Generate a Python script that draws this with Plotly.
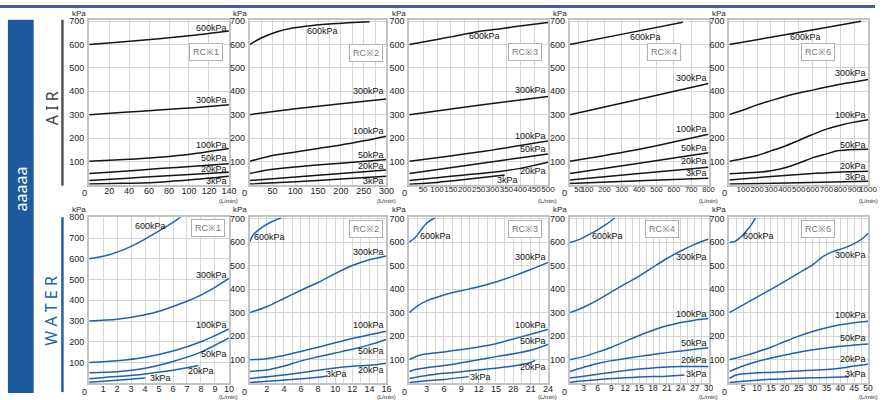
import plotly.graph_objects as go

W, H = 883, 400
FONT = "Liberation Sans Narrow, Liberation Sans, Arial, sans-serif"

# ---- curve data: {pressure label: (flow values, pressure values)} ----
air_rc1 = {
    "600kPa": ([0, 35, 70, 105, 140], [600, 612, 625, 640, 658]),
    "300kPa": ([0, 35, 70, 105, 140], [300, 310, 320, 330, 342]),
    "100kPa": ([0, 35, 70, 105, 140], [100, 108, 118, 133, 155]),
    "50kPa": ([0, 35, 70, 105, 140], [48, 58, 69, 79, 90]),
    "20kPa": ([0, 35, 70, 105, 140], [18, 27, 36, 45, 53]),
    "3kPa": ([0, 35, 70, 105, 140], [3, 6, 11, 22, 36]),
}
air_rc2 = {
    "600kPa": ([0, 25, 60, 97, 134, 190, 263], [600, 628, 655, 672, 681, 690, 698]),
    "300kPa": ([0, 100, 200, 300], [300, 325, 347, 367]),
    "100kPa": ([0, 50, 100, 150, 200, 250, 300], [100, 125, 140, 155, 170, 188, 208]),
    "50kPa": ([0, 30, 61, 134, 200, 300], [48, 60, 68, 82, 92, 108]),
    "20kPa": ([0, 100, 200, 300], [18, 33, 48, 63]),
    "3kPa": ([0, 100, 200, 300], [3, 13, 24, 36]),
}
air_rc3 = {
    "600kPa": ([0, 100, 155, 245, 335, 420, 500], [600, 622, 634, 655, 669, 683, 695]),
    "300kPa": ([0, 250, 500], [300, 340, 378]),
    "100kPa": ([0, 250, 500], [100, 140, 187]),
    "50kPa": ([0, 250, 500], [48, 90, 132]),
    "20kPa": ([0, 100, 200, 300, 400, 500], [18, 30, 42, 53, 70, 96]),
    "3kPa": ([0, 100, 200, 344], [2, 10, 22, 42]),
}
air_rc4 = {
    "600kPa": ([0, 326, 652], [600, 648, 696]),
    "300kPa": ([0, 400, 800], [300, 366, 433]),
    "100kPa": ([0, 400, 800], [100, 152, 216]),
    "50kPa": ([0, 400, 800], [48, 92, 137]),
    "20kPa": ([0, 400, 800], [20, 48, 75]),
    "3kPa": ([0, 400, 800], [5, 17, 28]),
}
air_rc6 = {
    "600kPa": ([0, 475, 950], [600, 650, 700]),
    "300kPa": ([0, 100, 200, 300, 400, 500, 600, 700, 800, 900, 1000],
               [300, 320, 342, 360, 378, 393, 405, 418, 430, 440, 450]),
    "100kPa": ([0, 200, 300, 400, 500, 600, 700, 800, 900, 1000],
               [100, 125, 145, 165, 190, 215, 238, 255, 268, 278]),
    "50kPa": ([0, 200, 300, 415, 500, 608, 700, 778, 900, 1000],
              [47, 53, 60, 75, 92, 117, 132, 145, 151, 152]),
    "20kPa": ([0, 200, 400, 600, 800, 1000], [20, 30, 40, 48, 55, 58]),
    "3kPa": ([0, 500, 1000], [3, 8, 15]),
}
water_rc1 = {
    "600kPa": ([0, 1, 2, 3, 4, 5, 6, 6.6], [600, 612, 632, 660, 695, 735, 775, 805]),
    "300kPa": ([0, 2, 4, 5, 6, 7, 8, 9, 10], [300, 308, 330, 347, 370, 395, 425, 462, 505]),
    "100kPa": ([0, 2, 4, 6, 8, 10], [100, 108, 125, 155, 200, 262]),
    "50kPa": ([0, 2, 4, 6, 8, 10], [50, 55, 72, 105, 150, 218]),
    "20kPa": ([0, 2, 4, 6, 7.8], [22, 32, 45, 62, 85]),
    "3kPa": ([0, 2, 4], [5, 14, 25]),
}
water_rc2 = {
    "600kPa": ([0, 0.4, 1.35, 2.5, 3.65], [600, 630, 660, 685, 702]),
    "300kPa": ([0, 2, 4, 6, 8, 10, 12, 14, 16], [300, 325, 360, 395, 428, 466, 500, 525, 541]),
    "100kPa": ([0, 2, 4, 6, 8, 10, 12, 14, 16], [100, 104, 118, 135, 153, 172, 190, 206, 221]),
    "50kPa": ([0, 2, 4, 6, 8, 10, 12, 14, 16], [50, 56, 73, 95, 112, 128, 144, 163, 186]),
    "20kPa": ([0, 4, 8, 10, 12, 14, 16], [20, 35, 55, 65, 72, 76, 85]),
    "3kPa": ([0, 3, 6, 9], [3, 10, 19, 30]),
}
water_rc3 = {
    "600kPa": ([0, 1, 2, 3, 4.4], [600, 618, 650, 680, 702]),
    "300kPa": ([0, 1.5, 3, 6, 9, 12, 15, 18, 21, 24], [300, 330, 350, 375, 393, 410, 430, 455, 483, 513]),
    "100kPa": ([0, 1.5, 3, 6, 9, 12, 15, 18, 21, 24], [100, 117, 125, 133, 143, 154, 168, 188, 208, 228]),
    "50kPa": ([0, 1.5, 3, 6, 9, 12, 15, 18, 21, 24], [50, 60, 66, 75, 87, 100, 113, 125, 140, 165]),
    "20kPa": ([0, 3, 6, 9, 12, 15, 18, 21, 21.8], [20, 33, 42, 49, 56, 64, 73, 88, 97]),
    "3kPa": ([0, 3, 6, 10.3], [3, 10, 16, 28]),
}
water_rc4 = {
    "600kPa": ([0, 2, 4, 6, 8, 9.7], [598, 610, 630, 652, 677, 702]),
    "300kPa": ([0, 3, 6, 9, 12, 15, 18, 21, 24, 27, 30],
               [300, 323, 353, 388, 422, 455, 493, 530, 562, 590, 613]),
    "100kPa": ([0, 3, 6, 9, 12, 15, 18, 21, 24, 27, 30],
               [100, 113, 132, 153, 178, 203, 225, 244, 258, 268, 275]),
    "50kPa": ([0, 3, 6, 9, 12, 15, 18, 21, 24, 27, 30],
              [50, 68, 84, 96, 105, 114, 122, 130, 137, 144, 151]),
    "20kPa": ([0, 3, 6, 9, 12, 15, 18, 21, 24, 30], [22, 30, 38, 46, 54, 60, 65, 69, 71, 71]),
    "3kPa": ([0, 3, 6, 9, 12, 15, 18, 21, 24.8], [3, 10, 15, 20, 23, 26, 28, 30, 35]),
}
water_rc6 = {
    "600kPa": ([0, 2, 4, 6, 8, 9.4], [598, 603, 620, 645, 675, 702]),
    "300kPa": ([0, 5, 10, 15, 20, 25, 30, 34, 37, 41, 45, 48, 50],
               [300, 333, 366, 399, 433, 468, 503, 540, 558, 573, 593, 615, 636]),
    "100kPa": ([0, 5, 10, 15, 20, 25, 30, 35, 40, 45, 50],
               [100, 115, 133, 153, 177, 200, 220, 236, 248, 257, 263]),
    "50kPa": ([0, 5, 10, 15, 20, 25, 30, 35, 40, 45, 50],
              [50, 73, 92, 107, 120, 132, 142, 150, 157, 162, 167]),
    "20kPa": ([0, 2, 5, 10, 15, 20, 25, 30, 35, 40, 45, 50],
              [20, 33, 40, 44, 46, 49, 52, 55, 58, 64, 73, 81]),
    "3kPa": ([0, 5, 10, 15, 20, 25, 30, 35, 43], [3, 8, 13, 17, 19, 21, 23, 24, 27]),
}

# ---- axis tick values ----
air_x_max = [140, 300, 500, 800, 1000]
water_x_max = [10, 16, 24, 30, 50]
air_x_ticks = [
    list(range(20, 141, 20)),
    list(range(50, 301, 50)),
    list(range(50, 501, 50)),
    [50] + list(range(100, 801, 100)),
    list(range(100, 1001, 100)),
]
water_x_ticks = [
    list(range(1, 11)),
    list(range(2, 17, 2)),
    list(range(3, 25, 3)),
    list(range(3, 31, 3)),
    list(range(5, 51, 5)),
]
water_x_ticktext = [
    None, None,
    ["3", "6", "9", "12", "15", "28", "21", "24"],
    None, None,
]
rc_names = ["RC※1", "RC※2", "RC※3", "RC※4", "RC※6"]
y_ticks_700 = list(range(100, 701, 100))
y_ticks_800 = list(range(100, 801, 100))

# ---- layout geometry (pixels) ----
col_px = [(90, 231), (252, 390), (413, 553), (575, 715), (736, 876)]
row_px = [(15, 182), (215, 383)]
kpa_px = [9, 207]
minor_top = [20, 25, 50, 100, 100]
minor_bot = [1, 1, 1.5, 1.5, 2.5]
xtick_size_top = [9, 9, 8, 7.5, 8]
xtick_size_bot = [9, 9, 9, 8.5, 8.5]
rc_box_px = [[(208, 48), (369, 49), (530, 48), (670, 48), (825, 48)],
             [(210, 226), (369, 227), (530, 227), (668, 227), (825, 227)]]

# curve label placement: (x, y, xanchor) in data units per pressure
air_label_pos = [
    [(140, 672, "right"), (140, 362, "right"), (140, 170, "right"), (140, 113, "right"), (140, 68, "right"), (140, 14, "right")],
    [(159, 660, "center"), (300, 400, "right"), (300, 230, "right"), (300, 128, "right"), (300, 81, "right"), (300, 17, "right")],
    [(271, 638, "center"), (500, 404, "right"), (500, 208, "right"), (500, 153, "right"), (500, 60, "right"), (354, 21, "center")],
    [(434, 634, "center"), (800, 455, "right"), (800, 238, "right"), (800, 157, "right"), (800, 102, "right"), (800, 51, "right")],
    [(550, 634, "center"), (1000, 477, "right"), (1000, 298, "right"), (1000, 170, "right"), (1000, 81, "right"), (1000, 34, "right")],
]
water_label_pos = [
    [(4.4, 757, "center"), (10, 524, "right"), (10, 281, "right"), (10, 143, "right"), (8.0, 57, "center"), (5.1, 24, "center")],
    [(2.3, 622, "center"), (16, 559, "right"), (16, 248, "right"), (16, 139, "right"), (16, 55, "right"), (10.2, 38, "center")],
    [(4.5, 626, "center"), (24, 538, "right"), (24, 248, "right"), (24, 181, "right"), (24, 67, "right"), (12.3, 25, "center")],
    [(8.1, 626, "center"), (30, 538, "right"), (30, 294, "right"), (30, 172, "right"), (30, 97, "right"), (30, 38, "right")],
    [(10.4, 626, "center"), (50, 546, "right"), (50, 290, "right"), (50, 193, "right"), (50, 105, "right"), (50, 38, "right")],
]

AIR_COLOR = "#151515"
WATER_COLOR = "#2160b0"
BAND_COLOR = "#1d5a9e"
GRID = "#d6d6d6"
FRAME = "#c4c4c4"
TICK_COLOR = "#222222"


def px_x(x):
    return x / W


def px_y(y):
    return 1 - y / H


fig = go.Figure()
layout = dict(
    width=W, height=H,
    margin=dict(l=0, r=0, t=0, b=0),
    paper_bgcolor="white", plot_bgcolor="white",
    showlegend=False,
    font=dict(family=FONT, size=9, color=TICK_COLOR),
)
annotations = []
shapes = []

rows = [
    dict(panels=[air_rc1, air_rc2, air_rc3, air_rc4, air_rc6], xmax=air_x_max,
         xticks=air_x_ticks, xtext=[None] * 5, minor=minor_top, xsize=xtick_size_top,
         color=AIR_COLOR, labels=air_label_pos),
    dict(panels=[water_rc1, water_rc2, water_rc3, water_rc4, water_rc6], xmax=water_x_max,
         xticks=water_x_ticks, xtext=water_x_ticktext, minor=minor_bot, xsize=xtick_size_bot,
         color=WATER_COLOR, labels=water_label_pos),
]

for r, row in enumerate(rows):
    top_px, bot_px = row_px[r]
    for c in range(5):
        idx = r * 5 + c + 1
        sfx = "" if idx == 1 else str(idx)
        left_px, right_px = col_px[c]
        xmax = row["xmax"][c]
        if r == 0:
            yrange, yticks = [0, 706], y_ticks_700
        elif c == 0:
            yrange, yticks = [0, 800], y_ticks_800
        else:
            yrange, yticks = [0, 705], y_ticks_700

        xt = row["xticks"][c]
        xtt = row["xtext"][c] or [str(v) for v in xt]
        layout["xaxis" + sfx] = dict(
            domain=[px_x(left_px), px_x(right_px)], range=[0, xmax], anchor="y" + sfx,
            tickvals=xt, ticktext=xtt, tickangle=0, ticks="",
            showgrid=True, gridcolor=GRID, gridwidth=1,
            minor=dict(tick0=0, dtick=row["minor"][c], showgrid=True, gridcolor=GRID, gridwidth=1),
            zeroline=False, showline=True, mirror=True, linecolor=FRAME, linewidth=2,
            tickfont=dict(size=row["xsize"][c], color=TICK_COLOR, family=FONT), fixedrange=True,
            ticklabelstandoff=-4,
        )
        layout["yaxis" + sfx] = dict(
            domain=[px_y(bot_px), px_y(top_px)], range=yrange, anchor="x" + sfx,
            tickvals=yticks, ticks="",
            showgrid=True, gridcolor=GRID, gridwidth=1,
            zeroline=False, showline=True, mirror=True, linecolor=FRAME, linewidth=2,
            tickfont=dict(size=9, color=TICK_COLOR, family=FONT), fixedrange=True,
            ticklabelstandoff=1,
        )

        panel = row["panels"][c]
        for k, (name, (xs, ys)) in enumerate(panel.items()):
            fig.add_trace(go.Scatter(
                x=xs, y=ys, mode="lines", xaxis="x" + sfx, yaxis="y" + sfx,
                line=dict(color=row["color"], width=1.5, shape="spline", smoothing=0.8),
                hoverinfo="skip",
            ))
            lx, ly, anc = row["labels"][c][k]
            annotations.append(dict(
                x=lx, y=ly, xref="x" + sfx, yref="y" + sfx, text=name, showarrow=False,
                xanchor=anc, yanchor="middle", font=dict(size=9, color="#111", family=FONT),
            ))

        # unit labels, corner zero and series name box
        annotations.append(dict(x=px_x(left_px - 1), y=px_y(kpa_px[r]), xref="paper", yref="paper",
                                text="kPa", showarrow=False, xanchor="right", yanchor="middle",
                                font=dict(size=8, color=TICK_COLOR, family=FONT)))
        annotations.append(dict(x=px_x(left_px - 5), y=px_y(bot_px + 8.5), xref="paper", yref="paper",
                                text="0", showarrow=False, xanchor="center", yanchor="middle",
                                font=dict(size=9, color=TICK_COLOR, family=FONT)))
        annotations.append(dict(x=px_x(right_px), y=px_y(min(bot_px + 16, 396.5)), xref="paper",
                                yref="paper", text="(L/min)", showarrow=False, xanchor="center",
                                yanchor="middle", font=dict(size=6, color=TICK_COLOR, family=FONT)))
        bx, by = rc_box_px[r][c]
        annotations.append(dict(x=px_x(bx), y=px_y(by), xref="paper", yref="paper",
                                text=rc_names[c], showarrow=False, xanchor="center", yanchor="middle",
                                bgcolor="white", bordercolor="#b0b0b0", borderwidth=1, borderpad=3,
                                font=dict(size=9, color="#777", family=FONT)))

# side band and row titles
shapes.append(dict(type="rect", xref="paper", yref="paper", x0=0, x1=1, y0=px_y(3), y1=1,
                   fillcolor="#4a58a6", line=dict(width=0), layer="above"))
shapes.append(dict(type="rect", xref="paper", yref="paper", x0=px_x(8), x1=px_x(34),
                   y0=px_y(393), y1=px_y(15), fillcolor=BAND_COLOR, line=dict(width=0)))
shapes.append(dict(type="line", xref="paper", yref="paper", x0=px_x(63), x1=px_x(63),
                   y0=px_y(183), y1=px_y(15), line=dict(color="#555555", width=2.5)))
shapes.append(dict(type="line", xref="paper", yref="paper", x0=px_x(63), x1=px_x(63),
                   y0=px_y(392), y1=px_y(215), line=dict(color=WATER_COLOR, width=2.5)))
annotations.append(dict(x=px_x(21), y=px_y(186), xref="paper", yref="paper", text="aaaaa",
                        showarrow=False, textangle=-90, xanchor="center", yanchor="middle",
                        font=dict(size=16, color="white", family="Noto Sans, sans-serif")))
annotations.append(dict(x=px_x(52), y=px_y(105), xref="paper", yref="paper", text="A I R",
                        showarrow=False, textangle=-90, xanchor="center", yanchor="middle",
                        font=dict(size=16, color="#444444", family="Noto Sans, sans-serif")))
annotations.append(dict(x=px_x(52), y=px_y(310), xref="paper", yref="paper", text="W A T E R",
                        showarrow=False, textangle=-90, xanchor="center", yanchor="middle",
                        font=dict(size=16, color=WATER_COLOR, family="Noto Sans, sans-serif")))

layout["annotations"] = annotations
layout["shapes"] = shapes
fig.update_layout(**layout)
fig.write_html("out.html")
